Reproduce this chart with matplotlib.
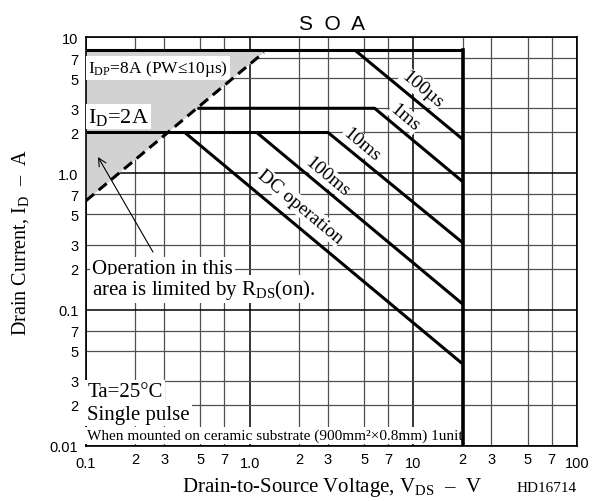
import numpy as np
import matplotlib.pyplot as plt
from matplotlib.ticker import FixedLocator, FixedFormatter

plt.rcParams['font.family'] = 'Liberation Serif'
plt.rcParams['mathtext.fontset'] = 'custom'
plt.rcParams['mathtext.rm'] = 'Liberation Serif'
plt.rcParams['mathtext.it'] = 'Liberation Serif:italic'
plt.rcParams['mathtext.bf'] = 'Liberation Serif:bold'
sans = 'Liberation Sans'

# tick positions / labels
x_major = [0.1, 1, 10, 100]
x_major_lab = ['0.1', '1.0', '10', '100']
x_minor = [0.2, 0.3, 0.5, 0.7, 2, 3, 5, 7, 20, 30, 50, 70]
y_major = [0.01, 0.1, 1, 10]
y_major_lab = ['0.01', '0.1', '1.0', '10']
y_minor = [0.02, 0.03, 0.05, 0.07, 0.2, 0.3, 0.5, 0.7, 2, 3, 5, 7]
minor_lab = ['2', '3', '5', '7'] * 3

# SOA boundaries (VDS [V], ID [A])
idp_v, idp_i = [0.1, 20], [8, 8]
vdss_v, vdss_i = [20, 20], [8, 0.01]
id_v, id_i = [0.1, 3.0], [2, 2]
pw100us_v, pw100us_i = [4.4, 20], [8, 1.78]
pw1ms_v, pw1ms_i = [0.48, 5.8, 20], [3, 3, 0.87]
pw10ms_v, pw10ms_i = [3.0, 20], [2, 0.31]
pw100ms_v, pw100ms_i = [1.1, 20], [2, 0.11]
dc_v, dc_i = [0.4, 20], [2, 0.04]
rds_v, rds_i = [0.1, 1.22], [0.63, 7.7]
shade_v, shade_i = [0.1, 0.1, 1.27], [0.63, 8, 8]

fig = plt.figure(figsize=(6.01, 5.02), dpi=100)
ax = fig.add_axes([0.1431, 0.1096, 0.8170, 0.8147])
ax.set_xscale('log')
ax.set_yscale('log')
ax.set_xlim(0.1, 100)
ax.set_ylim(0.01, 10)

ax.xaxis.set_major_locator(FixedLocator(x_major))
ax.xaxis.set_major_formatter(FixedFormatter(x_major_lab))
ax.xaxis.set_minor_locator(FixedLocator(x_minor))
ax.xaxis.set_minor_formatter(FixedFormatter(minor_lab))
ax.yaxis.set_major_locator(FixedLocator(y_major))
ax.yaxis.set_major_formatter(FixedFormatter(y_major_lab))
ax.yaxis.set_minor_locator(FixedLocator(y_minor))
ax.yaxis.set_minor_formatter(FixedFormatter(minor_lab))
ax.tick_params(which='both', length=0, labelsize=10.5)
ax.tick_params(axis='x', which='major', pad=7.5)
ax.tick_params(axis='x', which='minor', pad=4.5)
ax.tick_params(axis='y', which='both', pad=5.5)
for lab in ax.get_xticklabels(which='both') + ax.get_yticklabels(which='both'):
    lab.set_fontfamily(sans)

ax.grid(which='major', color='black', linewidth=1.1, zorder=0)
ax.grid(which='minor', color='#505050', linewidth=0.9, zorder=0)
ax.set_axisbelow(True)
for s in ax.spines.values():
    s.set_linewidth(1.2)

# shaded R_DS(on) limited area
ax.fill(shade_v, shade_i, color='#d2d2d2', lw=0, zorder=1)

lw = 2.2
for v, i in [(idp_v, idp_i), (id_v, id_i), (pw100us_v, pw100us_i),
             (pw1ms_v, pw1ms_i), (pw10ms_v, pw10ms_i),
             (pw100ms_v, pw100ms_i), (dc_v, dc_i)]:
    ax.plot(v, i, color='black', lw=lw, zorder=4, solid_capstyle='butt')
ax.plot(vdss_v, vdss_i, color='black', lw=2.6, zorder=4)
ax.plot(rds_v, rds_i, color='black', lw=lw, ls=(0, (3.4, 2.0)), zorder=4)

box = dict(facecolor='white', edgecolor='none', pad=1.5)

ax.text(0.103, 5.53, 'I$_{\\mathrm{DP}}$=8A (PW≤10µs)', fontsize=12.5,
        va='baseline', ha='left', bbox=box, zorder=3)
ax.text(0.103, 2.38, 'I$_{\\mathrm{D}}$=2A', fontsize=16,
        va='baseline', ha='left', bbox=box, zorder=3)

# slanted pulse labels
p1 = ax.transData.transform((1, 1))
p2 = ax.transData.transform((10, 0.1))
ang = np.degrees(np.arctan2(p2[1] - p1[1], p2[0] - p1[0]))
pulse_labels = ['100µs', '1ms', '10ms', '100ms', 'DC operation']
pulse_pos = [(11.3, 4.15), (8.9, 2.59), (4.85, 1.64), (2.97, 0.955), (2.03, 0.575)]
for t, (px, py) in zip(pulse_labels, pulse_pos):
    ax.text(px, py, t, fontsize=14, rotation=ang, rotation_mode='anchor',
            ha='center', va='center', bbox=dict(facecolor='white', edgecolor='none', pad=0.5),
            zorder=3)

ax.text(0.109, 0.1856, 'Operation in this', fontsize=15, va='baseline', ha='left',
        bbox=box, zorder=3)
ax.text(0.109, 0.130, 'area is limited by R$_{\\mathrm{DS}}$(on).', fontsize=15,
        va='baseline', ha='left', bbox=box, zorder=3)
ax.annotate('', xy=(0.1184, 1.317), xytext=(0.2566, 0.2646),
            arrowprops=dict(arrowstyle='->', lw=0.8, color='black',
                            mutation_scale=14, shrinkA=0, shrinkB=0), zorder=3)

ax.text(0.102, 0.0232, 'Ta=25°C', fontsize=15, va='baseline', ha='left',
        bbox=box, zorder=3)
ax.text(0.102, 0.01575, 'Single pulse', fontsize=15, va='baseline', ha='left',
        bbox=box, zorder=3)
ax.text(0.102, 0.01125, 'When mounted on ceramic substrate (900mm²×0.8mm) 1unit',
        fontsize=11, va='baseline', ha='left', bbox=box, zorder=3)

ax.set_title('S  O  A', fontfamily=sans, fontsize=15, pad=6)
ax.set_xlabel('Drain-to-Source Voltage, V$_{\\mathrm{DS}}$  –  V', fontsize=15)
ax.xaxis.set_label_coords(0.5, -0.071)
ax.set_ylabel('Drain Current, I$_{\\mathrm{D}}$  –  A', fontsize=14.5)
ax.yaxis.set_label_coords(-0.112, 0.5)
fig.text(577 / 601, 1 - 492 / 502, 'HD16714', fontsize=11, ha='right', va='baseline')

fig.savefig('out.png', dpi=100)
